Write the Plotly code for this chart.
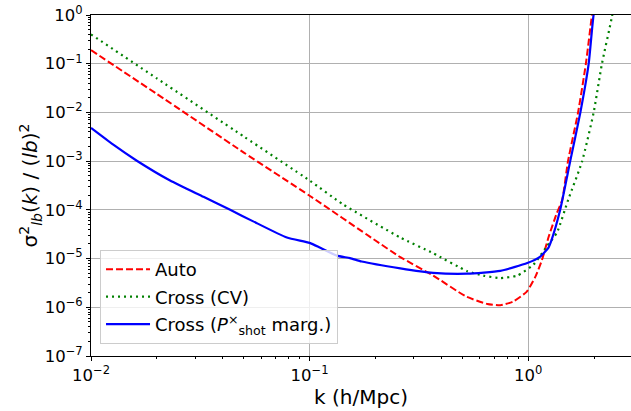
import plotly.graph_objects as go

# ---- data ----
k_auto = [0.01, 0.02, 0.05, 0.1, 0.2, 0.26, 0.367, 0.52, 0.65, 0.745, 0.85, 0.985,
          1.08, 1.155, 1.24, 1.35, 1.43, 1.52, 1.69, 1.835, 1.955, 2.1]
y_auto = [0.19, 0.024, 1.5e-3, 1.95e-4, 2.35e-5, 1.07e-5, 4.5e-6, 1.66e-6, 1.17e-6, 1.1e-6,
          1.3e-6, 2.1e-6, 4.3e-6, 9.3e-6, 2.8e-5, 8.5e-5, 1.6e-4, 1.0e-3, 1.0e-2, 0.1, 1.0, 20.0]

k_cv = [0.01, 0.02, 0.05, 0.1, 0.142, 0.26, 0.367, 0.526, 0.622, 0.745, 0.89, 1.054,
        1.216, 1.352, 1.524, 1.762, 1.99, 2.173, 2.415, 2.6]
y_cv = [0.4, 0.05, 3.2e-3, 4.0e-4, 1.3e-4, 2.7e-5, 1.29e-5, 5.5e-6, 4.47e-6, 3.98e-6,
        4.47e-6, 7.4e-6, 1.78e-5, 3.4e-5, 1.62e-4, 9.8e-4, 9.8e-3, 0.1, 0.93, 8.0]

k_marg = [0.01, 0.0126, 0.0162, 0.023, 0.0327, 0.0433, 0.0552, 0.0787, 0.1, 0.112, 0.133,
          0.153, 0.173, 0.26, 0.367, 0.526, 0.745, 0.99, 1.135, 1.236, 1.28, 1.40, 1.556,
          1.73, 1.89, 1.99, 2.2]
y_marg = [4.8e-3, 2.2e-3, 1.02e-3, 4.0e-4, 1.85e-4, 1.0e-4, 5.8e-5, 2.7e-5, 2.1e-5, 1.66e-5,
          1.15e-5, 1.02e-5, 8.7e-6, 6.3e-6, 5.1e-6, 4.9e-6, 5.6e-6, 8.1e-6, 1.1e-5, 1.66e-5,
          2.45e-5, 1.0e-4, 1.0e-3, 9.8e-3, 0.1, 1.0, 10.0]

x_tickvals = [0.01, 0.1, 1]
x_ticktext = ["10<sup>\u22122</sup>", "10<sup>\u22121</sup>", "10<sup>0</sup>"]
y_tickvals = [1e-7, 1e-6, 1e-5, 1e-4, 1e-3, 1e-2, 1e-1, 1]
y_ticktext = ["10<sup>\u22127</sup>", "10<sup>\u22126</sup>", "10<sup>\u22125</sup>",
              "10<sup>\u22124</sup>", "10<sup>\u22123</sup>", "10<sup>\u22122</sup>",
              "10<sup>\u22121</sup>", "10<sup>0</sup>"]

minor_x = [m * 10.0 ** e for e in range(-2, 1) for m in range(2, 10)]
minor_y = [m * 10.0 ** e for e in range(-7, 0) for m in range(2, 10)]

FONT = "DejaVu Sans"

fig = go.Figure()
fig.add_trace(go.Scatter(x=k_auto, y=y_auto, mode="lines", name="Auto", legendgroup="a",
                         line=dict(color="red", width=2, dash="7px,3px", shape="spline",
                                   smoothing=0.5)))
fig.add_trace(go.Scatter(x=k_cv, y=y_cv, mode="lines", name="Cross (CV)", legendgroup="b",
                         line=dict(color="green", width=2.2, dash="2px,4px", shape="spline",
                                   smoothing=0.5)))
fig.add_trace(go.Scatter(x=k_marg, y=y_marg, mode="lines", legendgroup="c",
                         name="Cross (<i>P</i><sup>\u00d7</sup><sub>shot</sub> marg.)",
                         line=dict(color="blue", width=2.2, shape="spline", smoothing=0.5)))

fig.update_layout(
    width=631, height=411,
    margin=dict(l=91, r=0, t=15, b=55),
    plot_bgcolor="white", paper_bgcolor="white",
    font=dict(family=FONT, color="black", size=16),
    showlegend=True,
    legend=dict(x=0.0167, y=0.035, xanchor="left", yanchor="bottom",
                bgcolor="rgba(255,255,255,0.8)", bordercolor="#cccccc", borderwidth=1,
                font=dict(family=FONT, size=18), tracegroupgap=1, itemwidth=44),
)
fig.update_xaxes(
    type="log", range=[-2, 0.47], automargin=False,
    tickmode="array", tickvals=x_tickvals, ticktext=x_ticktext,
    ticks="outside", ticklen=4, tickwidth=1, tickcolor="black",
    minor=dict(tickmode="array", tickvals=minor_x, ticks="outside", ticklen=2,
               tickcolor="black", showgrid=False),
    showgrid=True, gridcolor="#b0b0b0", gridwidth=1,
    showline=True, linecolor="black", linewidth=1, mirror=True,
    tickfont=dict(size=16.5),
    title=dict(text="k (h/Mpc)", font=dict(size=20), standoff=4),
    zeroline=False,
)
fig.update_yaxes(
    type="log", range=[-7, 0], automargin=False,
    tickmode="array", tickvals=y_tickvals, ticktext=y_ticktext,
    ticks="outside", ticklen=4, tickwidth=1, tickcolor="black",
    minor=dict(tickmode="array", tickvals=minor_y, ticks="outside", ticklen=2,
               tickcolor="black", showgrid=False),
    showgrid=True, gridcolor="#b0b0b0", gridwidth=1,
    showline=True, linecolor="black", linewidth=1, mirror=False,
    tickfont=dict(size=16.5),
    title=dict(text="\u03c3<sup>2</sup><sub><i>lb</i></sub>(<i>k</i>) / (<i>lb</i>)<sup>2</sup>",
               font=dict(size=20), standoff=0),
    zeroline=False,
)

fig.write_html("out.html", config={"displayModeBar": False},
               post_script="document.body.style.margin='0';")
